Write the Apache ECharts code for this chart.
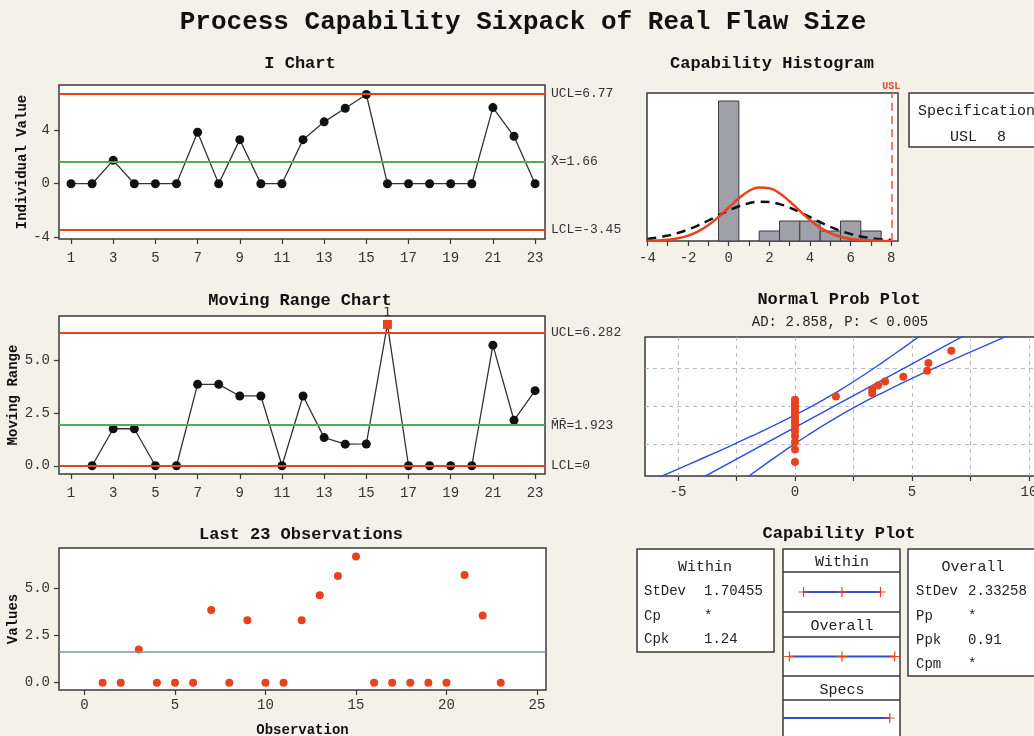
<!DOCTYPE html>
<html><head><meta charset="utf-8">
<script src="https://cdn.jsdelivr.net/npm/echarts@6.0.0/dist/echarts.min.js"></script>
<style>html,body{margin:0;padding:0;background:#f4f1e8;}#c{width:1034px;height:736px;}</style>
</head><body><div id="c"></div>
<script>
// ---------- data ----------
const observations = [1,2,3,4,5,6,7,8,9,10,11,12,13,14,15,16,17,18,19,20,21,22,23];
const flawSize = [0,0,1.75,0,0,0,3.85,0,3.3,0,0,3.3,4.63,5.65,6.68,0,0,0,0,0,5.7,3.55,0];
const movingRange = [null,0,1.75,1.75,0,0,3.85,3.85,3.3,3.3,0,3.3,1.33,1.02,1.03,6.68,0,0,0,0,5.7,2.15,3.55];
const iChartLimits = [6.77, 1.66, -3.45];      // UCL, mean, LCL
const iChartLimitLabels = ['UCL=6.77', 'X\u0304=1.66', 'LCL=-3.45'];
const mrLimits = [6.282, 1.923, 0];
const mrLimitLabels = ['UCL=6.282', 'M\u0304R\u0304=1.923', 'LCL=0'];
const oddTicks = [1,3,5,7,9,11,13,15,17,19,21,23];

const histBinStart = [-0.5, 1.5, 2.5, 3.5, 4.5, 5.5, 6.5];
const histCount = [14, 1, 2, 2, 1, 2, 1];
const histBinWidth = 1;
const curveX = [-4,-3.5,-3,-2.5,-2,-1.5,-1,-0.5,0,0.5,1,1.5,2,2.5,3,3.5,4,4.5,5,5.5,6,6.5,7,7.5,8];
const withinCurve = [0.02,0.06,0.13,0.27,0.54,0.97,1.59,2.41,3.35,4.27,5.00,5.36,5.28,4.77,3.95,3.01,2.10,1.34,0.79,0.43,0.21,0.10,0.04,0.02,0.01];
const overallCurve = [0.21,0.34,0.54,0.80,1.15,1.57,2.05,2.56,3.05,3.48,3.78,3.93,3.89,3.69,3.34,2.88,2.38,1.88,1.41,1.02,0.70,0.46,0.29,0.17,0.10];
const usl = 8;

const probX = [0,0,0,0,0,0,0,0,0,0,0,0,0,0,1.75,3.3,3.3,3.55,3.85,4.63,5.65,5.7,6.68];
const probZ = [-1.88,-1.46,-1.20,-1.00,-0.84,-0.70,-0.56,-0.44,-0.33,-0.22,-0.11,0,0.11,0.22,0.33,0.44,0.56,0.70,0.84,1.00,1.20,1.46,1.88];
const bandZ = [-2.4,-2,-1.5,-1,-0.5,0,0.5,1,1.5,2,2.4];
const bandLower = [-5.82,-4.66,-3.23,-1.84,-0.52,0.71,1.82,2.83,3.77,4.67,5.38];
const bandUpper = [-2.06,-1.35,-0.45,0.50,1.51,2.61,3.84,5.16,6.55,7.98,9.14];
const fitX = [-3.94, 7.26];
const fitZ = [-2.4, 2.4];
const probGridX = [-5,-2.5,0,2.5,5,7.5,10];
const probGridZ = [-1.2816, 0, 1.2816];
const probLabelX = [-5,0,5,10];

const withinSpan = [-3.45, 1.66, 6.77];
const overallSpan = [-5.34, 1.66, 8.66];
const withinStatsLabels = ['StDev','Cp','Cpk'];
const withinStatsValues = ['1.70455','*','1.24'];
const overallStatsLabels = ['StDev','Pp','Ppk','Cpm'];
const overallStatsValues = ['2.33258','*','0.91','*'];

// ---------- style helpers ----------
const MONO = '"Liberation Mono", "DejaVu Sans Mono", monospace';
const RED = '#e8421e';
const GREEN = '#4caf50';
const BLUE = '#2f4ee0';
const BOX = '#3a3a3a';

function gridBox(l,t,w,h){return {left:l,top:t,width:w,height:h,show:true,backgroundColor:'#ffffff',borderColor:BOX,borderWidth:1.5,containLabel:false,outerBoundsMode:'none'};}
function tick(vals){return {show:true, inside:false, length:5, customValues:vals, lineStyle:{color:BOX,width:1.2}};}
function lab(vals, margin, fmt){const o={show:true, customValues:vals, color:'#333', fontFamily:MONO, fontSize:14, margin:margin}; if(fmt) o.formatter=fmt; return o;}
function valAxis(idx, min, max, o){
  return Object.assign({type:'value', gridIndex:idx, min:min, max:max,
    axisLine:{show:false, onZero:false}, splitLine:{show:false},
    axisTick:{show:true, length:5, lineStyle:{color:BOX,width:1.2}},
    axisLabel:{show:true, color:'#333', fontFamily:MONO, fontSize:14, margin:10}}, o||{});
}
const nameStyle = {fontFamily:MONO,fontWeight:'bold',fontSize:14,color:'#111'};

const grids = [
  gridBox(59,85,486,154),   // I chart
  gridBox(59,316,486,158),  // MR chart
  gridBox(59,548,487,142),  // last obs
  gridBox(647,93,251,148),  // histogram
  gridBox(645,337,420,139), // prob plot
  {left:783,top:572,width:117,height:40,show:false},
  {left:783,top:637,width:117,height:39,show:false},
  {left:783,top:700,width:117,height:38,show:false}
];

const capMin = -6.18, capMax = 9.36;
const fmt1 = v => v.toFixed(1);
const xAxes = [
  valAxis(0,0.43,23.47,{axisTick:tick(oddTicks),axisLabel:lab(oddTicks,12)}),
  valAxis(1,0.43,23.47,{axisTick:tick(oddTicks),axisLabel:lab(oddTicks,12)}),
  valAxis(2,-1.41,25.5,{name:'Observation',nameLocation:'middle',nameGap:33,nameTextStyle:nameStyle,
    axisTick:tick([0,5,10,15,20,25]),axisLabel:lab([0,5,10,15,20,25],8)}),
  valAxis(3,-4.02,8.33,{axisTick:tick([-4,-3,-2,-1,0,1,2,3,4,5,6,7,8]),axisLabel:lab([-4,-2,0,2,4,6,8],10)}),
  valAxis(4,-6.41,11.54,{axisTick:tick(probGridX),axisLabel:lab(probLabelX,9),
    splitLine:{show:true,lineStyle:{color:'#b0bcd4',type:[4,4],width:1}}}),
  {type:'value',gridIndex:5,min:capMin,max:capMax,show:false},
  {type:'value',gridIndex:6,min:capMin,max:capMax,show:false},
  {type:'value',gridIndex:7,min:capMin,max:capMax,show:false}
];
const yAxes = [
  valAxis(0,-4.14,7.39,{name:'Individual Value',nameLocation:'middle',nameGap:30,nameRotate:90,nameTextStyle:nameStyle,
    axisTick:tick([-4,0,4]),axisLabel:lab([-4,0,4],9)}),
  valAxis(1,-0.39,7.08,{name:'Moving Range',nameLocation:'middle',nameGap:34,nameRotate:90,nameTextStyle:nameStyle,
    axisTick:tick([0,2.5,5]),axisLabel:lab([0,2.5,5],9,fmt1)}),
  valAxis(2,-0.39,7.13,{name:'Values',nameLocation:'middle',nameGap:37,nameRotate:90,nameTextStyle:nameStyle,
    axisTick:tick([0,2.5,5]),axisLabel:lab([0,2.5,5],9,fmt1)}),
  {type:'value',gridIndex:3,min:0,max:14.8,show:false},
  valAxis(4,-2.35,2.34,{axisTick:{show:false,customValues:probGridZ},axisLabel:{show:false},splitLine:{show:true,lineStyle:{color:'#b0bcd4',type:[4,4],width:1}}}),
  {type:'value',gridIndex:5,min:-1,max:1,show:false},
  {type:'value',gridIndex:6,min:-1,max:1,show:false},
  {type:'value',gridIndex:7,min:-1,max:1,show:false}
];

function limitLines(values, labels){
  return {symbol:'none', silent:true, animation:false,
    label:{show:true,position:'end',distance:6,fontFamily:MONO,fontSize:13,color:'#333'},
    data: values.map((v,i)=>({yAxis:v, label:{formatter:labels[i]}, lineStyle:{color: i===1?GREEN:RED, width:2, type:'solid'}}))};
}

const plusPath = 'path://M4.4,0h1.2v4.4h4.4v1.2h-4.4v4.4h-1.2v-4.4h-4.4v-1.2h4.4z';

const series = [
  {type:'line', xAxisIndex:0, yAxisIndex:0, data:observations.map((o,i)=>[o,flawSize[i]]),
   symbol:'circle', symbolSize:9, itemStyle:{color:'#111'}, lineStyle:{color:'#333',width:1.3},
   markLine:limitLines(iChartLimits, iChartLimitLabels), z:3},
  {type:'line', xAxisIndex:1, yAxisIndex:1,
   data:observations.map((o,i)=> movingRange[i]===null ? null : (o===16 ? {value:[o,movingRange[i]],symbol:'rect',symbolSize:9,itemStyle:{color:RED},label:{show:true,formatter:'1',position:'top',distance:1,fontFamily:'"DejaVu Sans"',fontSize:13,color:'#333'}} : [o,movingRange[i]])).filter(d=>d!==null),
   symbol:'circle', symbolSize:9, itemStyle:{color:'#111'}, lineStyle:{color:'#333',width:1.3},
   markLine:limitLines(mrLimits, mrLimitLabels), z:3},
  {type:'scatter', xAxisIndex:2, yAxisIndex:2, data:observations.map((o,i)=>[o,flawSize[i]]),
   symbol:'circle', symbolSize:8, itemStyle:{color:RED, opacity:1}, z:4,
   markLine:{symbol:'none',silent:true,label:{show:false},data:[{yAxis:iChartLimits[1]}],lineStyle:{color:'#7d93ad',width:1.5,type:'solid'}}},
  {type:'custom', xAxisIndex:3, yAxisIndex:3, data:histBinStart.map((s,i)=>[s, s+histBinWidth, histCount[i]]),
   renderItem:function(params, api){
     const p0 = api.coord([api.value(0), 0]);
     const p1 = api.coord([api.value(1), api.value(2)]);
     return {type:'rect', shape:{x:p0[0], y:p1[1], width:p1[0]-p0[0], height:p0[1]-p1[1]},
       style:{fill:'#a0a0aa', stroke:'#3a3a3a', lineWidth:1}};
   }, z:2},
  {type:'line', xAxisIndex:3, yAxisIndex:3, data:curveX.map((x,i)=>[x,overallCurve[i]]), smooth:true, symbol:'none',
   lineStyle:{color:'#111',width:2.5,type:[9,6]}, z:4},
  {type:'line', xAxisIndex:3, yAxisIndex:3, data:curveX.map((x,i)=>[x,withinCurve[i]]), smooth:true, symbol:'none',
   lineStyle:{color:RED,width:2.5}, z:5,
   markLine:{symbol:'none',silent:true,data:[{xAxis:usl}],lineStyle:{color:'#f0705a',width:1.8,type:[8,5]},
     label:{show:true,position:'end',formatter:'USL',distance:2,fontFamily:MONO,fontWeight:'bold',fontSize:10,color:RED}}},
  {type:'line', xAxisIndex:4, yAxisIndex:4, data:bandZ.map((z,i)=>[bandLower[i],z]), smooth:true, symbol:'none', lineStyle:{color:BLUE,width:1.4}},
  {type:'line', xAxisIndex:4, yAxisIndex:4, data:bandZ.map((z,i)=>[bandUpper[i],z]), smooth:true, symbol:'none', lineStyle:{color:BLUE,width:1.4}},
  {type:'line', xAxisIndex:4, yAxisIndex:4, data:fitX.map((x,i)=>[x,fitZ[i]]), symbol:'none', lineStyle:{color:BLUE,width:1.4}},
  {type:'scatter', xAxisIndex:4, yAxisIndex:4, data:probX.map((x,i)=>[x,probZ[i]]), symbol:'circle', symbolSize:8, itemStyle:{color:RED, opacity:1}, z:5},
  {type:'line', xAxisIndex:5, yAxisIndex:5, data:withinSpan.map(x=>[x,0]), symbol:plusPath, symbolSize:10,
   itemStyle:{color:RED}, lineStyle:{color:BLUE,width:2}, z:5},
  {type:'line', xAxisIndex:6, yAxisIndex:6, data:overallSpan.map(x=>[x,0]), symbol:plusPath, symbolSize:10,
   itemStyle:{color:RED}, lineStyle:{color:BLUE,width:2}, z:5},
  {type:'line', xAxisIndex:7, yAxisIndex:7, data:[{value:[capMin,0],symbol:'none'},{value:[usl,0]}], symbol:plusPath, symbolSize:10,
   itemStyle:{color:RED}, lineStyle:{color:BLUE,width:2}, z:5}
];

function txt(x,y,text,font,align,color){
  return {type:'text', x:x, y:y, z:10, style:{text:text, font:font, align:align||'left', verticalAlign:'middle', textAlign:align||'left', textVerticalAlign:'middle', fill:color||'#111'}};
}
function rect(x,y,w,h){return {type:'rect', z:0, shape:{x:x,y:y,width:w,height:h}, style:{fill:'#ffffff',stroke:BOX,lineWidth:1.5}};}
function hline(x1,x2,y){return {type:'line', z:1, shape:{x1:x1,y1:y,x2:x2,y2:y}, style:{stroke:BOX,lineWidth:1.5}};}

const TF = 'bold 17px ' + MONO;
const BF = '14px ' + MONO;
const graphics = [
  txt(523,22,'Process Capability Sixpack of Real Flaw Size','bold 26px '+MONO,'center'),
  txt(300,64,'I Chart',TF,'center'),
  txt(300,301,'Moving Range Chart',TF,'center'),
  txt(301,535,'Last 23 Observations',TF,'center'),
  txt(772,64,'Capability Histogram',TF,'center'),
  txt(839,300,'Normal Prob Plot',TF,'center'),
  txt(840,322,'AD: 2.858, P: < 0.005','14px '+MONO,'center','#222'),
  txt(839,534,'Capability Plot',TF,'center'),
  rect(909,93,140,54),
  txt(918,111,'Specifications','15px '+MONO,'left','#222'),
  txt(950,137,'USL','15px '+MONO,'left','#222'),
  txt(997,137,'8','15px '+MONO,'left','#222'),
  rect(637,549,137,103),
  txt(705,567,'Within','15px '+MONO,'center','#222'),
  rect(783,549,117,200),
  hline(783,900,572), hline(783,900,612), hline(783,900,637), hline(783,900,676), hline(783,900,700),
  txt(842,562,'Within','15px '+MONO,'center','#222'),
  txt(842,626,'Overall','15px '+MONO,'center','#222'),
  txt(842,690,'Specs','15px '+MONO,'center','#222'),
  rect(908,549,140,127),
  txt(973,567,'Overall','15px '+MONO,'center','#222')
];
withinStatsLabels.forEach((l,i)=>{ const y=[591,616,639][i]; graphics.push(txt(644,y,l,BF,'left','#222')); graphics.push(txt(704,y,withinStatsValues[i],BF,'left','#222')); });
overallStatsLabels.forEach((l,i)=>{ const y=[591,616,640,664][i]; graphics.push(txt(916,y,l,BF,'left','#222')); graphics.push(txt(968,y,overallStatsValues[i],BF,'left','#222')); });

const chart = echarts.init(document.getElementById('c'), null, {renderer:'canvas'});
chart.setOption({
  backgroundColor:'#f4f1e8',
  animation:false,
  textStyle:{fontFamily:MONO},
  grid:grids, xAxis:xAxes, yAxis:yAxes, series:series, graphic:graphics
});
</script></body></html>
